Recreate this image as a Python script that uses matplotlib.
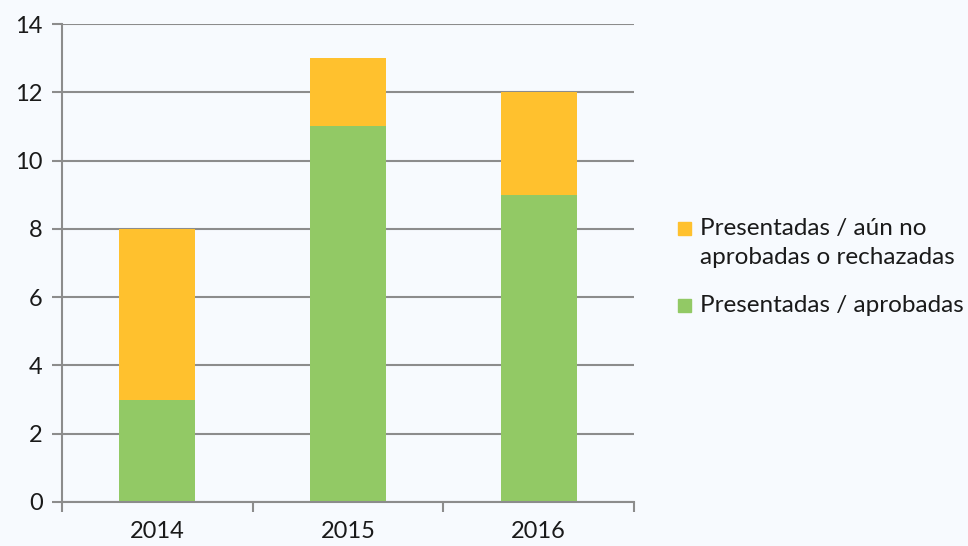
import matplotlib.pyplot as plt
from matplotlib.patches import Rectangle
import numpy as np

years = ["2014", "2015", "2016"]
aprobadas = [3, 11, 9]
pendientes = [5, 2, 3]
label_pend = ["Presentadas / aún no", "aprobadas o rechazadas"]
label_apro = "Presentadas / aprobadas"

bg = "#F7FAFE"
grid_col = "#8C8C8C"
green = "#92C965"
orange = "#FFC12E"
txt = "#1a1a1a"

plt.rcParams['font.family'] = ['Lato', 'DejaVu Sans']

fig = plt.figure(figsize=(9.68, 5.46), dpi=100, facecolor=bg)
ax = fig.add_axes([0.064, 0.0806, 0.591, 0.8754], facecolor=bg)

x = np.arange(len(years))
ax.bar(x, aprobadas, width=0.4, color=green, zorder=3)
ax.bar(x, pendientes, width=0.4, bottom=aprobadas, color=orange, zorder=3)

ax.set_xlim(-0.5, 2.5)
ax.set_ylim(0, 14)
ax.set_yticks(range(0, 15, 2))
ax.set_xticks(x)
ax.set_xticklabels(years)
ax.set_xticks([-0.5, 0.5, 1.5, 2.5], minor=True)
ax.tick_params(axis='x', which='major', length=0, pad=14, labelsize=17, colors=txt)
ax.tick_params(axis='x', which='minor', length=7, width=1.5, color=grid_col)
ax.tick_params(axis='y', length=7, width=1.5, color=grid_col, labelsize=17, pad=7, labelcolor=txt)

ax.grid(axis='y', color=grid_col, linewidth=1.5, zorder=0)
for s in ['top', 'right']:
    ax.spines[s].set_visible(False)
for s in ['left', 'bottom']:
    ax.spines[s].set_color(grid_col)
    ax.spines[s].set_linewidth(1.5)
ax.spines['bottom'].set_zorder(4)

# legend, drawn by hand so the marker sits on the first line like the original
W, H = 968, 546
def fx(px): return px / W
def fy(py): return 1 - py / H
sq = 13
for col, yc in [(orange, 228), (green, 305)]:
    fig.patches.append(Rectangle((fx(678), fy(yc + sq / 2)), sq / W, sq / H,
                                 color=col, transform=fig.transFigure, figure=fig))
fig.text(fx(700), fy(228), label_pend[0], fontsize=17.5, color=txt, va='center')
fig.text(fx(700), fy(257), label_pend[1], fontsize=17.5, color=txt, va='center')
fig.text(fx(700), fy(305), label_apro, fontsize=17.5, color=txt, va='center')

fig.savefig("out.png", dpi=100, facecolor=bg)
